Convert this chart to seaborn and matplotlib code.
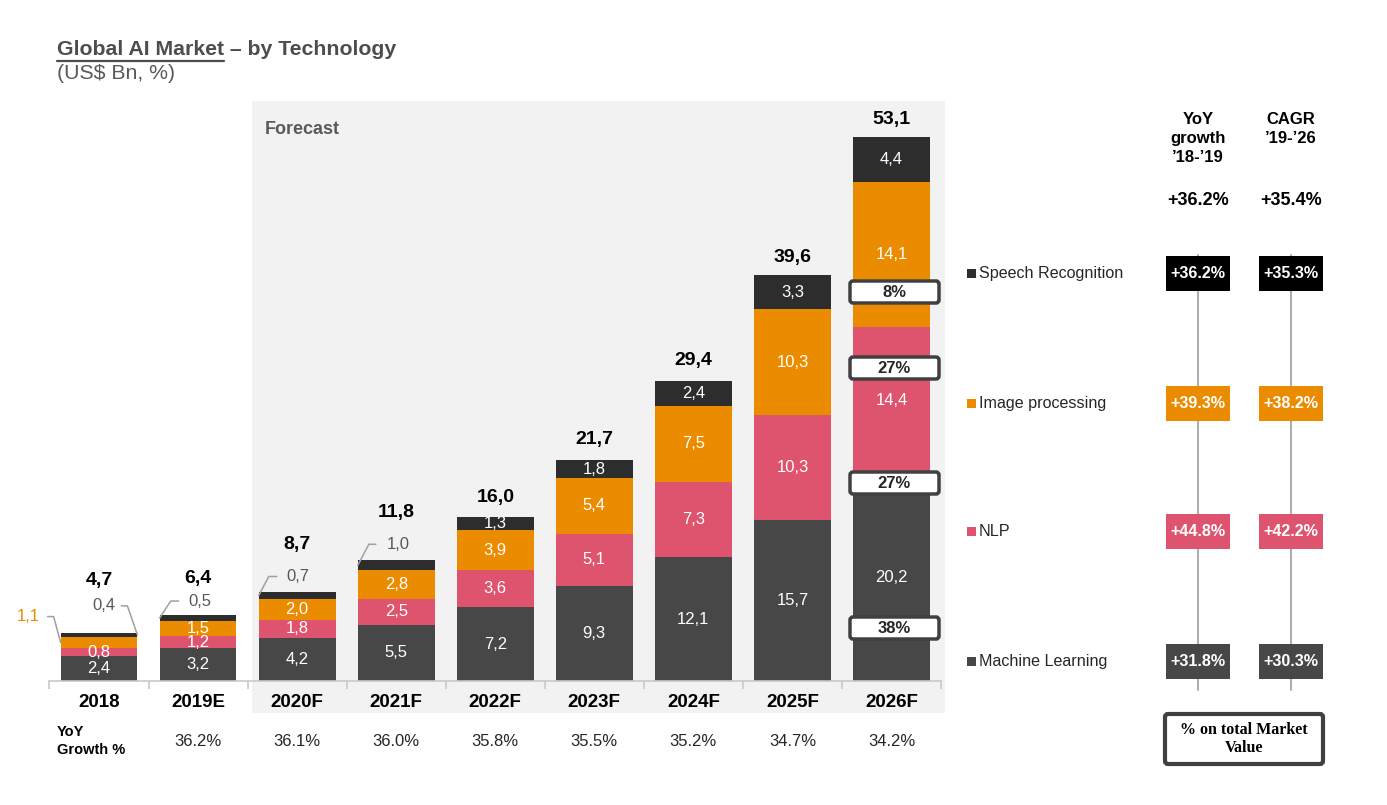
import matplotlib.pyplot as plt
import numpy as np
import seaborn as sns
import pandas as pd
from matplotlib.patches import Rectangle, FancyBboxPatch
from matplotlib.transforms import blended_transform_factory

# --- data (US$ Bn) ---
years = ['2018', '2019E', '2020F', '2021F', '2022F', '2023F', '2024F', '2025F', '2026F']
machine_learning = [2.4, 3.2, 4.2, 5.5, 7.2, 9.3, 12.1, 15.7, 20.2]
nlp = [0.8, 1.2, 1.8, 2.5, 3.6, 5.1, 7.3, 10.3, 14.4]
image_processing = [1.1, 1.5, 2.0, 2.8, 3.9, 5.4, 7.5, 10.3, 14.1]
speech_recognition = [0.4, 0.5, 0.7, 1.0, 1.3, 1.8, 2.4, 3.3, 4.4]
totals = [4.7, 6.4, 8.7, 11.8, 16.0, 21.7, 29.4, 39.6, 53.1]
yoy_growth = [36.2, 36.1, 36.0, 35.8, 35.5, 35.2, 34.7, 34.2]  # 2019E..2026F

tech_names = ['Speech Recognition', 'Image processing', 'NLP', 'Machine Learning']
tech_yoy = [36.2, 39.3, 44.8, 31.8]
tech_cagr = [35.3, 38.2, 42.2, 30.3]
total_yoy = 36.2
total_cagr = 35.4

C_ML = '#474747'
C_NLP = '#DE536E'
C_IMG = '#EB8C00'
C_SPEECH = '#2D2D2D'
GRAY_TXT = '#4D4D4D'

sns.set_theme(style='white')
plt.rcParams['font.family'] = ['Liberation Sans', 'DejaVu Sans']

W, H = 1387, 805
PX_PER_UNIT = 10.24
fig = plt.figure(figsize=(W / 100, H / 100), dpi=100)
fig.patch.set_facecolor('white')
ax = fig.add_axes([49.5 / W, (H - 681) / H, 891.5 / W, 581 / H])
ax.set_facecolor('none')
# overlay in pixel coordinates (y down) for texts and boxes
ov = fig.add_axes([0, 0, 1, 1], zorder=5)
ov.set_xlim(0, W)
ov.set_ylim(H, 0)
ov.axis('off')

df = pd.DataFrame({'year': years, 'ml': machine_learning, 'nlp': nlp,
                   'img': image_processing, 'speech': speech_recognition})
cum = df[['ml', 'nlp', 'img', 'speech']].cumsum(axis=1)

# stacked bars: draw cumulative heights from the top down
for col, color in [('speech', C_SPEECH), ('img', C_IMG), ('nlp', C_NLP), ('ml', C_ML)]:
    sns.barplot(x=df['year'], y=cum[col], color=color, saturation=1, width=0.775,
                errorbar=None, linewidth=0, ax=ax)

ax.set_xlim(-0.5, 8.5)
ax.set_ylim(0, 581 / PX_PER_UNIT)
ax.set_xlabel('')
ax.set_ylabel('')
ax.set_yticks([])
ax.set_xticks(np.arange(-0.5, 9.0, 1.0))
ax.set_xticklabels([])
ax.tick_params(axis='x', bottom=True, length=6, width=1.2, color='#C8C8C8', direction='out')
for s in ['left', 'top', 'right']:
    ax.spines[s].set_visible(False)
ax.spines['bottom'].set_color('#C8C8C8')
ax.spines['bottom'].set_linewidth(1.2)

# forecast background
ax.add_patch(Rectangle((252, 101), 693, 612, transform=ov.transData, facecolor='#F2F2F2',
                       edgecolor='none', zorder=0, clip_on=False))

bt = blended_transform_factory(ax.transData, ov.transData)

# segment labels
fmt = lambda v: f'{v:.1f}'.replace('.', ',')
callouts = {(0, 'img'), (0, 'speech'), (1, 'speech'), (2, 'speech'), (3, 'speech')}
for i in range(len(years)):
    bottom = 0
    for col in ['ml', 'nlp', 'img', 'speech']:
        v = df[col][i]
        if (i, col) not in callouts:
            ax.text(i, bottom + v / 2, fmt(v), ha='center', va='center', color='white', fontsize=12)
        bottom += v

# callouts: (bar, series, side, text dx, dy, knee dx, line start dx) in pixels
half_w = 0.775 / 2
callout_layout = [
    (0, 'img', -1, -32, -26, -7, -13, C_IMG),
    (0, 'speech', 1, -34, -29, -10, -16, '#595959'),
    (1, 'speech', -1, 40, -17, 11, 19, '#595959'),
    (2, 'speech', -1, 39, -19, 10, 18, '#595959'),
    (3, 'speech', -1, 40, -21, 11, 18, '#595959'),
]
for i, col, side, tdx, dy, kdx, sdx, tc in callout_layout:
    seg_mid = cum[col][i] - df[col][i] / 2
    dx_, dy_ = ax.transData.transform((i + side * half_w, seg_mid))
    axp, ayp = dx_, H - dy_
    ov.plot([axp, axp + kdx, axp + sdx], [ayp, ayp + dy, ayp + dy], color='#A0A0A0', lw=1.1)
    ov.text(axp + tdx, ayp + dy, fmt(df[col][i]), ha='center', va='center', color=tc, fontsize=12)

# totals
total_offsets = [52, 37, 47, 48, 20, 19, 19, 18, 18]
for i, (t, off) in enumerate(zip(totals, total_offsets)):
    ax.annotate(fmt(t), (i, t), xytext=(0, off), textcoords='offset pixels', ha='center',
                va='center', fontsize=14, weight='bold', color='black')

# share of 2026 total
share_y = [292, 368, 483, 628]
last = len(years) - 1
for col, cy in zip(['speech', 'img', 'nlp', 'ml'], share_y):
    share = round(df[col][last] / totals[last] * 100)
    ov.add_patch(FancyBboxPatch((850, cy - 11), 89, 22, boxstyle='round,pad=0,rounding_size=3',
                                lw=2.5, edgecolor='#404040', facecolor='white'))
    ov.text(894.5, cy + 0.5, f'{share}%', ha='center', va='center', fontsize=12, weight='bold')

# x labels and growth row
for i, yr in enumerate(years):
    ov.text(i, 702, yr, transform=bt, ha='center', va='center', fontsize=13.5, weight='bold', color='black')
for i, g in enumerate(yoy_growth, start=1):
    ov.text(i, 741, f'{g:.1f}%', transform=bt, ha='center', va='center', fontsize=12, color='#262626')
ov.text(57, 741, 'YoY\nGrowth %', ha='left', va='center', fontsize=10.5, weight='bold',
        linespacing=1.3, color='black')

# title
t1 = ov.text(57, 55, 'Global AI Market', fontsize=15.3, weight='bold', color=GRAY_TXT, va='baseline')
fig.canvas.draw()
bb = t1.get_window_extent()
x0, x1 = ov.transData.inverted().transform([[bb.x0, bb.y0], [bb.x1, bb.y0]])[:, 0]
ov.plot([x0, x1], [61.5, 61.5], color=GRAY_TXT, lw=1.6)
ov.text(x1, 55, ' – by Technology', fontsize=15.3, weight='bold', color=GRAY_TXT, va='baseline')
ov.text(57, 79, '(US$ Bn, %)', fontsize=15.3, color='#595959', va='baseline')
ov.text(265, 130, 'Forecast', fontsize=13, weight='bold', color='#595959', va='center')

# right panel
col_x = [1198, 1291]
rows_y = [273, 403, 531, 661]
legend_colors = [C_SPEECH, C_IMG, C_NLP, C_ML]
box_colors = ['#000000', C_IMG, C_NLP, C_ML]
for cx in col_x:
    ov.plot([cx, cx], [255, 690], color='#AFAFAF', lw=1.5, zorder=1)
ov.text(col_x[0], 112, 'YoY\ngrowth\n’18-’19', ha='center', va='top', fontsize=12, weight='bold',
        linespacing=1.35, color='black')
ov.text(col_x[1], 112, 'CAGR\n’19-’26', ha='center', va='top', fontsize=12, weight='bold',
        linespacing=1.35, color='black')
ov.text(col_x[0], 200, f'+{total_yoy:.1f}%', ha='center', va='center', fontsize=13, weight='bold',
        color='black')
ov.text(col_x[1], 200, f'+{total_cagr:.1f}%', ha='center', va='center', fontsize=13, weight='bold',
        color='black')
for name, lc, bc, yv, cv, ry in zip(tech_names, legend_colors, box_colors, tech_yoy, tech_cagr, rows_y):
    ov.add_patch(Rectangle((967, ry - 4.5), 9, 9, facecolor=lc, edgecolor='none'))
    ov.text(979, ry, name, ha='left', va='center', fontsize=11.6, color='#262626')
    for cx, v in zip(col_x, (yv, cv)):
        ov.add_patch(Rectangle((cx - 32, ry - 17.5), 64, 35, facecolor=bc, edgecolor='none', zorder=2))
        ov.text(cx, ry, f'+{v:.1f}%', ha='center', va='center', fontsize=11.6, weight='bold',
                color='white', zorder=3)

ov.add_patch(FancyBboxPatch((1165, 714), 158, 50, boxstyle='round,pad=0,rounding_size=3',
                            lw=3, edgecolor='#404040', facecolor='white'))
ov.text(1244, 739, '% on total Market\nValue', ha='center', va='center', fontsize=11.5, weight='bold',
        family=['Liberation Serif', 'DejaVu Serif'], linespacing=1.1, color='black')

fig.savefig('out.png', dpi=100)
